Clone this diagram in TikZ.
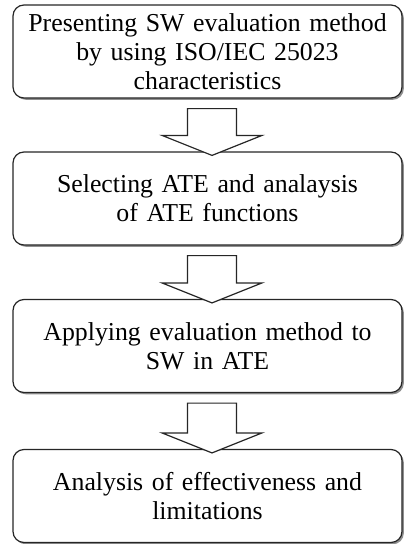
\documentclass[tikz,border=0pt]{standalone}
\usepackage{fontspec}
\setmainfont[WordSpace=0.6]{Liberation Serif}
\usetikzlibrary{calc,shadows}

\newcommand{\flowarrow}[2]{%
    \draw[hollowarrow] let \p1 = ($(#1.south)+(4.5pt,-10pt)$),
                           \p2 = ($(#2.north)+(4.5pt,-4pt)$) in
        (\x1-24.5pt,\y1) -- (\x1-24.5pt,\y2+20pt) -- (\x1-50pt,\y2+20pt)
        -- (\x2,\y2) -- (\x1+50pt,\y2+20pt) -- (\x1+24.5pt,\y2+20pt)
        -- (\x1+24.5pt,\y1) -- cycle;
}

\begin{document}
\begin{tikzpicture}[
        x=1pt, y=1pt,
        stagebox/.style={draw=black!85, line width=1.2pt, rounded corners=11pt,
            fill=white, minimum width=389pt, minimum height=93pt,
            text width=380pt, align=center,
            font=\fontsize{25.8}{29}\selectfont,
            drop shadow={shadow xshift=1.8pt, shadow yshift=-1.8pt, fill=black!55, opacity=0.8}},
        hollowarrow/.style={draw=black!85, line width=1.2pt, fill=white}
    ]
        \useasboundingbox (0,0) rectangle (405,-544);
        \node[stagebox] (present) at (207.5, -51.5)  {Presenting SW evaluation method\\by using ISO/IEC 25023\\characteristics};
        \node[stagebox] (select)  at (207.5, -198.5) {Selecting ATE and analaysis\\of ATE functions};
        \node[stagebox] (apply)   at (207.5, -346)   {Applying evaluation method to\\SW in ATE};
        \node[stagebox] (analyse) at (207.5, -496)   {Analysis of effectiveness and\\limitations};
        \flowarrow{present}{select}
        \flowarrow{select}{apply}
        \flowarrow{apply}{analyse}
    \end{tikzpicture}
\end{document}
